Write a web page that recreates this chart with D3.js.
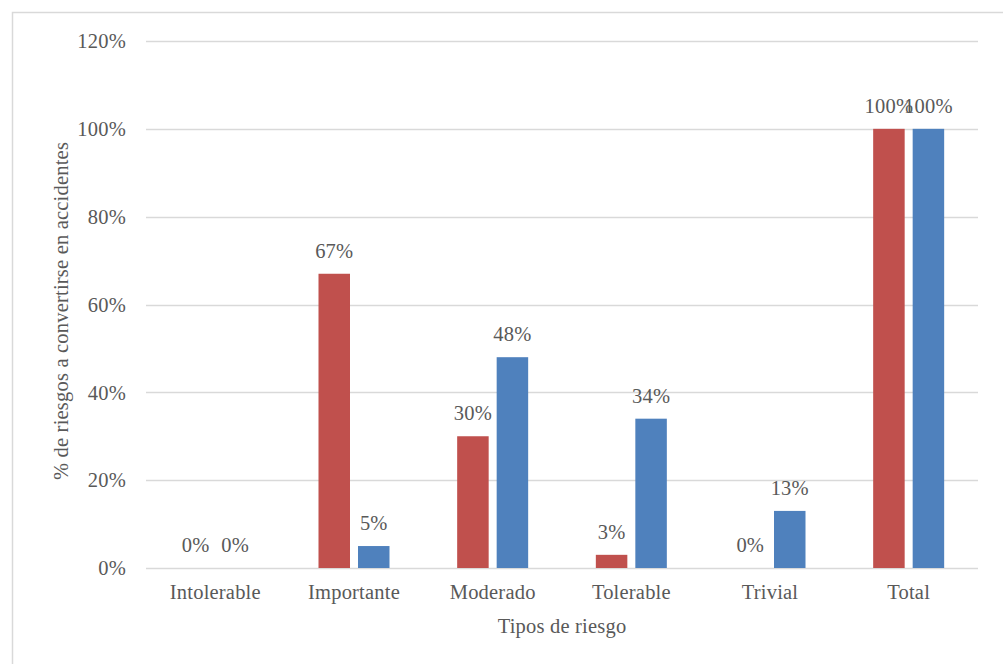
<!DOCTYPE html>
<html><head><meta charset="utf-8">
<script src="https://cdn.jsdelivr.net/npm/d3@7"></script>
<style>body{margin:0;background:#fff;} text{font-family:"Liberation Serif","Times New Roman",serif;fill:#595959;letter-spacing:0.2px;}</style>
</head><body>
<svg id="c" width="1003" height="664"></svg>
<script>
const categories = ["Intolerable","Importante","Moderado","Tolerable","Trivial","Total"];
const seriesRed = [0,67,30,3,0,100];
const seriesBlue = [0,5,48,34,13,100];
const yTicks = [0,20,40,60,80,100,120];
const xTitle = "Tipos de riesgo";
const yTitle = "% de riesgos a convertirse en accidentes";

const svg = d3.select("#c");
svg.append("rect").attr("x",12.5).attr("y",12.5).attr("width",1000).attr("height",700)
  .attr("fill","none").attr("stroke","#D9D9D9").attr("stroke-width",1.5);

const L=146, R=978, T=41, B=568;
const FS = 20.5;
const x = d3.scaleBand().domain(categories).range([L,R]);
const y = d3.scaleLinear().domain([0,120]).range([B,T]);
const barW = 31.5, gap = 8;

const g = svg.append("g");
g.selectAll("line.grid").data(yTicks).join("line")
  .attr("x1",L).attr("x2",R).attr("y1",d=>Math.round(y(d))+0.5).attr("y2",d=>Math.round(y(d))+0.5)
  .attr("stroke","#D9D9D9").attr("stroke-width",1.3);
g.selectAll("text.yt").data(yTicks).join("text")
  .attr("x",126).attr("y",d=>y(d)).attr("dy","0.35em").attr("text-anchor","end")
  .attr("font-size",FS).text(d=>d+"%");

const series = [{vals:seriesRed,color:"#C0504D",off:-gap/2-barW},{vals:seriesBlue,color:"#4F81BD",off:gap/2}];
series.forEach(s=>{
  const cx = c=>x(c)+x.bandwidth()/2+s.off;
  g.selectAll(null).data(categories).join("rect")
    .attr("x",cx).attr("width",barW)
    .attr("y",(c,i)=>y(s.vals[i])).attr("height",(c,i)=>B-y(s.vals[i]))
    .attr("fill",s.color);
  g.selectAll(null).data(categories).join("text")
    .attr("x",c=>cx(c)+barW/2).attr("y",(c,i)=>y(s.vals[i])-16)
    .attr("text-anchor","middle").attr("font-size",FS)
    .text((c,i)=>s.vals[i]+"%");
});

g.selectAll("text.xt").data(categories).join("text")
  .attr("x",c=>x(c)+x.bandwidth()/2).attr("y",599).attr("text-anchor","middle")
  .attr("font-size",FS).text(d=>d);

svg.append("text").attr("x",(L+R)/2).attr("y",633).attr("text-anchor","middle")
  .attr("font-size",FS).text(xTitle);
svg.append("text").attr("transform","translate(68,311) rotate(-90)")
  .attr("text-anchor","middle").attr("font-size",FS).text(yTitle);
</script>
</body></html>
